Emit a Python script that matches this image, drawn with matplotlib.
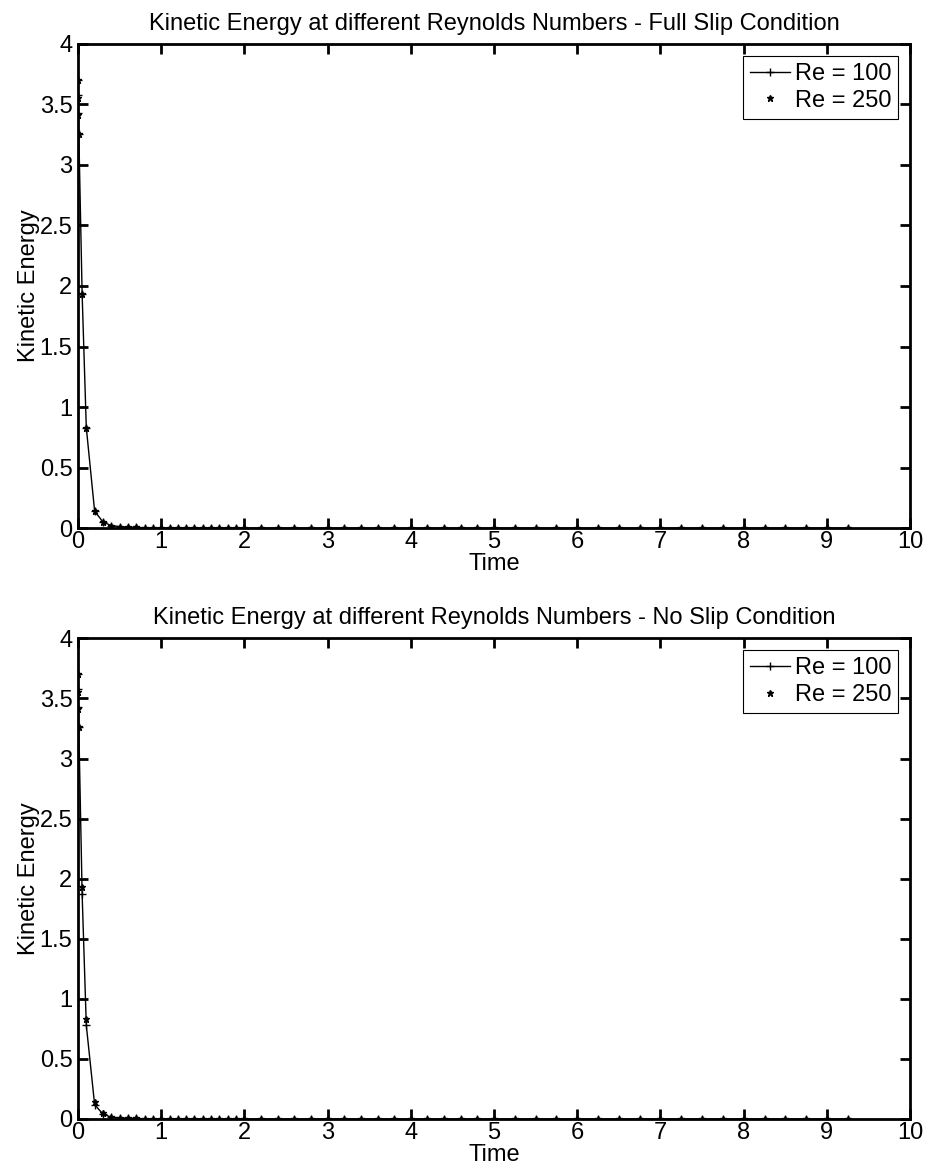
import matplotlib
matplotlib.use("Agg")
import matplotlib.pyplot as plt

plt.rcParams["font.family"] = ["Liberation Sans", "DejaVu Sans"]

# time samples (adaptive step of the solver output)
time = [0.0, 0.002, 0.005, 0.01, 0.05, 0.1, 0.2, 0.3, 0.4, 0.5,
        0.6, 0.7, 0.8, 0.9, 1.0, 1.1, 1.2, 1.3, 1.4, 1.5,
        1.6, 1.7, 1.8, 1.9, 2.0, 2.2, 2.4, 2.6, 2.8, 3.0,
        3.2, 3.4, 3.6, 3.8, 4.0, 4.2, 4.4, 4.6, 4.8, 5.0,
        5.25, 5.5, 5.75, 6.0, 6.25, 6.5, 6.75, 7.0, 7.25, 7.5,
        7.75, 8.0, 8.25, 8.5, 8.75, 9.0, 9.25]

tail = [0.0] * 37

# full slip
ke_slip_100 = [3.70, 3.58, 3.43, 3.26, 1.93, 0.83, 0.14, 0.05, 0.02, 0.012,
               0.008, 0.005, 0.003, 0.002, 0.001, 0.001, 0.0, 0.0, 0.0, 0.0] + tail
ke_slip_250 = [3.70, 3.55, 3.41, 3.26, 1.93, 0.83, 0.14, 0.05, 0.02, 0.012,
               0.008, 0.005, 0.003, 0.002, 0.001, 0.001, 0.0, 0.0, 0.0, 0.0] + tail

# no slip
ke_noslip_100 = [3.70, 3.58, 3.43, 3.26, 1.87, 0.78, 0.12, 0.04, 0.015, 0.010,
                 0.006, 0.004, 0.002, 0.001, 0.001, 0.0, 0.0, 0.0, 0.0, 0.0] + tail
ke_noslip_250 = [3.70, 3.55, 3.41, 3.26, 1.93, 0.83, 0.14, 0.05, 0.02, 0.012,
                 0.008, 0.005, 0.003, 0.002, 0.001, 0.001, 0.0, 0.0, 0.0, 0.0] + tail

titles = ["Kinetic Energy at different Reynolds Numbers - Full Slip Condition",
          "Kinetic Energy at different Reynolds Numbers - No Slip Condition"]

fig = plt.figure(figsize=(9.35, 11.75), dpi=100)
ax1 = fig.add_axes([0.0834, 0.5506, 0.890, 0.412])
ax2 = fig.add_axes([0.0834, 0.0477, 0.890, 0.409])

for ax, title, e100, e250 in [(ax1, titles[0], ke_slip_100, ke_slip_250),
                              (ax2, titles[1], ke_noslip_100, ke_noslip_250)]:
    ax.plot(time, e100, color="black", linewidth=1.0, marker="+",
            markersize=6, markeredgewidth=1.0, label="Re = 100")
    ax.plot(time, e250, color="black", linestyle="none", marker="*",
            markersize=4.5, label="Re = 250")
    ax.set_xlim(0, 10)
    ax.set_ylim(0, 4)
    ax.set_xticks(range(0, 11))
    ax.set_yticks([0, 0.5, 1, 1.5, 2, 2.5, 3, 3.5, 4])
    ax.set_yticklabels(["0", "0.5", "1", "1.5", "2", "2.5", "3", "3.5", "4"])
    ax.tick_params(direction="in", length=7, width=2, top=True, right=True,
                   labelsize=17)
    ax.tick_params(axis="y", pad=4)
    ax.tick_params(axis="x", pad=2)
    for sp in ax.spines.values():
        sp.set_linewidth(2)
    ax.set_title(title, fontsize=17, pad=10)
    ax.set_xlabel("Time", fontsize=17, labelpad=0)
    ax.set_ylabel("Kinetic Energy", fontsize=17, labelpad=0)
    leg = ax.legend(loc="upper right", fontsize=17, fancybox=False,
                    edgecolor="black", framealpha=1, handlelength=1.7,
                    handletextpad=0.2, borderpad=0.3, labelspacing=0.2,
                    borderaxespad=0.5)
    leg.get_frame().set_linewidth(0.8)

plt.savefig("out.png", dpi=100)
